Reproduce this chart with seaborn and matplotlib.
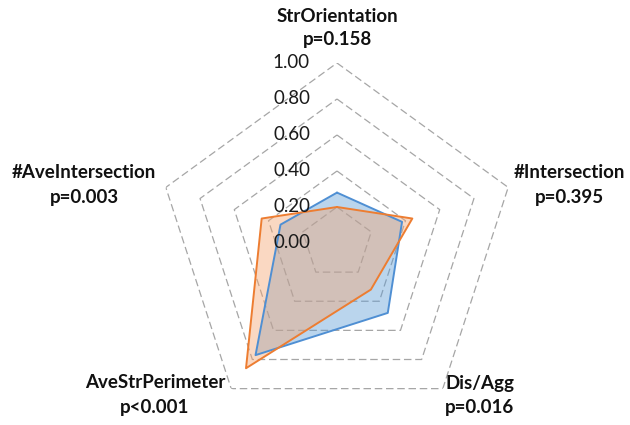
import numpy as np
import pandas as pd
import matplotlib
matplotlib.use("Agg")
import matplotlib.pyplot as plt
import seaborn as sns

# categories clockwise from top, with p values
categories = ['StrOrientation', '#Intersection', 'Dis/Agg', 'AveStrPerimeter', '#AveIntersection']
p_values = ['p=0.158', 'p=0.395', 'p=0.016', 'p<0.001', 'p=0.003']
series1 = [0.28, 0.38, 0.48, 0.77, 0.33]   # blue
series2 = [0.20, 0.44, 0.32, 0.86, 0.44]   # orange
rings = [0.2, 0.4, 0.6, 0.8, 1.0]
tick_labels = ['0.00', '0.20', '0.40', '0.60', '0.80', '1.00']

sns.set_style("white")
plt.rcParams['font.family'] = ['Lato', 'DejaVu Sans']

n = len(categories)
theta = np.linspace(0, 2 * np.pi, n, endpoint=False)
theta_c = np.append(theta, theta[0])

fig = plt.figure(figsize=(6.3, 4.25), dpi=100)
ax = fig.add_axes([157 / 630, 2 / 425, 360 / 630, 360 / 425], projection='polar')
ax.set_theta_zero_location('N')
ax.set_theta_direction(-1)
ax.set_ylim(0, 1)
ax.grid(False)
ax.spines['polar'].set_visible(False)
ax.set_xticks([])
ax.set_yticks([])

# pentagon grid
for r in rings:
    ax.plot(theta_c, [r] * (n + 1), color='#A6A6A6', lw=0.9, ls=(0, (6, 3)), zorder=1)

blue = '#4F8FD3'
orange = '#ED7D31'
for vals, col, fill in [(series1, blue, '#5B9BD5'), (series2, orange, '#F4A46F')]:
    v = np.append(vals, vals[0])
    ax.fill(theta_c, v, color=fill, alpha=0.42, lw=0, zorder=2)
    df = pd.DataFrame({'t': theta_c, 'v': v})
    sns.lineplot(data=df, x='t', y='v', sort=False, estimator=None, color=col, lw=1.4, ax=ax, zorder=3)
ax.set_xlabel('')
ax.set_ylabel('')

# radial tick labels
for r, lab in zip([0.0] + rings, tick_labels):
    ax.annotate(lab, xy=(0, r), xytext=(-27, 0), textcoords='offset pixels',
                ha='right', va='center', fontsize=13.5, color='#1a1a1a', zorder=4)

# category labels (pixel positions)
label_pos = [(337, 17, 40), (569, 172, 197), (480, 383, 408), (155, 383, 408), (84, 172, 197)]
for cat, pv, (x, y1, y2) in zip(categories, p_values, label_pos):
    fig.text(x / 630, 1 - y1 / 425, cat, ha='center', va='center', fontsize=13.5, fontweight='bold', color='#111111')
    fig.text(x / 630, 1 - y2 / 425, pv, ha='center', va='center', fontsize=13.5, fontweight='bold', color='#111111')

fig.savefig('out.png', dpi=100)
